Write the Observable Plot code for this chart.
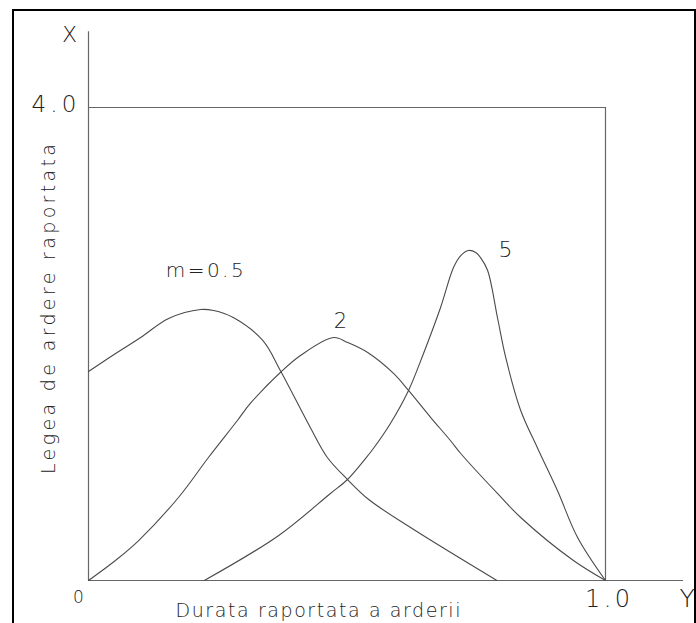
<!DOCTYPE html>
<html>
<head>
<meta charset="utf-8">
<script src="https://cdn.jsdelivr.net/npm/d3@7"></script>
<script src="https://cdn.jsdelivr.net/npm/@observablehq/plot@0.6"></script>
<style>
  html, body { margin: 0; padding: 0; background: #fff; }
  #wrap { position: relative; width: 696px; height: 623px; overflow: hidden; }
  #border { position: absolute; left: 12px; top: 9px; width: 680px; height: 700px; border: 2px solid #000; }
  #chart { position: absolute; left: 0; top: 0; }
</style>
</head>
<body>
<div id="wrap"><div id="border"></div><div id="chart"></div></div>
<script>
// ---- data ----
const seriesNames = ["m=0.5", "2", "5"];

const m05X = [0, 0.048, 0.101, 0.155, 0.217, 0.242, 0.280, 0.337, 0.371, 0.429, 0.462, 0.501, 0.542, 0.629, 0.790];
const m05Y = [1.767, 1.907, 2.055, 2.216, 2.292, 2.283, 2.224, 2.030, 1.776, 1.294, 1.040, 0.854, 0.685, 0.431, 0];

const m2X = [0, 0.052, 0.097, 0.174, 0.232, 0.288, 0.313, 0.371, 0.410, 0.474, 0.501, 0.540, 0.590, 0.619, 0.662, 0.700, 0.720, 0.791, 0.836, 0.938, 1.0];
const m2Y = [0, 0.169, 0.338, 0.702, 1.040, 1.353, 1.497, 1.759, 1.903, 2.055, 2.013, 1.928, 1.751, 1.607, 1.378, 1.184, 1.074, 0.736, 0.533, 0.169, 0];

const m5X = [0.224, 0.368, 0.468, 0.501, 0.536, 0.551, 0.584, 0.619, 0.648, 0.681, 0.706, 0.720, 0.735, 0.749, 0.758, 0.772, 0.791, 0.807, 0.836, 0.868, 0.907, 0.946, 1.0];
const m5Y = [0, 0.381, 0.736, 0.854, 1.032, 1.116, 1.328, 1.607, 1.920, 2.309, 2.647, 2.748, 2.791, 2.774, 2.732, 2.622, 2.224, 1.886, 1.438, 1.125, 0.761, 0.364, 0];

const xTickLabels = ["0", "1.0"];
const yTickLabels = ["4.0"];
const xTitle = "Durata raportata a arderii";
const yTitle = "Legea de ardere raportata";
const xAxisName = "Y";
const yAxisName = "X";

// ---- build table ----
const toRows = (xs, ys, name) => xs.map((x, i) => ({x, y: ys[i], s: name}));
const rows = [
  ...toRows(m05X, m05Y, seriesNames[0]),
  ...toRows(m2X, m2Y, seriesNames[1]),
  ...toRows(m5X, m5Y, seriesNames[2])
];
const peakOf = name => d3.greatest(rows.filter(r => r.s === name), r => r.y);

const font = "DejaVu Sans";
const fw = 200;
const ink = "#222";
const lineInk = "#4a4a4a";
const axisInk = "#666";

const txt = (data, opts) => Plot.text(data, {text: d => d, fontFamily: font, fontWeight: fw, fill: ink, ...opts});

const plot = Plot.plot({
  width: 696,
  height: 623,
  marginLeft: 88,
  marginRight: 91,
  marginTop: 107,
  marginBottom: 43,
  x: {domain: [0, 1], axis: null},
  y: {domain: [0, 4], axis: null},
  style: {background: "transparent", overflow: "visible"},
  marks: [
    // axes
    Plot.ruleX([0], {y1: 0, y2: 4.64, stroke: axisInk, strokeWidth: 1.2}),
    Plot.ruleY([0], {x1: 0, x2: 1.151, stroke: axisInk, strokeWidth: 1.2}),
    // box at 4.0 / 1.0
    Plot.ruleY([4], {x1: 0, x2: 1, stroke: axisInk, strokeWidth: 1.2}),
    Plot.ruleX([1], {y1: 0, y2: 4, stroke: axisInk, strokeWidth: 1.2}),
    // curves
    Plot.line(rows, {x: "x", y: "y", z: "s", stroke: lineInk, strokeWidth: 1.1, curve: "catmull-rom"}),
    // curve labels
    Plot.text([peakOf(seriesNames[0])], {x: "x", y: "y", text: "s", dx: 4, dy: -39, fontFamily: font, fontWeight: fw, fontSize: 20, fill: ink}),
    Plot.text([peakOf(seriesNames[1])], {x: "x", y: "y", text: "s", dx: 7, dy: -16, fontFamily: font, fontWeight: fw, fontSize: 21, fill: ink}),
    Plot.text([peakOf(seriesNames[2])], {x: "x", y: "y", text: "s", dx: 37, dy: -1, fontFamily: font, fontWeight: fw, fontSize: 22, fill: ink}),
    // tick labels
    txt([xTickLabels[0]], {x: 0, y: 0, dx: -10, dy: 17.5, fontSize: 17}),
    txt([xTickLabels[1]], {x: 1, y: 0, dx: 2, dy: 19, fontSize: 24}),
    txt([yTickLabels[0]], {x: 0, y: 4, dx: -34.5, dy: -3, fontSize: 23}),
    // axis names
    txt([yAxisName], {x: 0, y: 4.64, dx: -19, dy: 3, fontSize: 22}),
    txt([xAxisName], {x: 1.151, y: 0, dx: 3.5, dy: 18.5, fontSize: 25}),
    // titles
    txt([xTitle], {x: 0.5, y: 0, dx: -29, dy: 30, fontSize: 19}),
    txt([yTitle], {x: 0, y: 2, dx: -40, dy: -35, rotate: -90, fontSize: 19})
  ]
});

// stretch letter spacing of stroke-font style labels to the reference widths
const widths = new Map([[xTitle, 285], [yTitle, 330], [seriesNames[0], 78], [yTickLabels[0], 45], [xTickLabels[1], 45]]);
d3.select(plot).selectAll("text").each(function() {
  const w = widths.get(this.textContent);
  if (w) { this.setAttribute("textLength", w); this.setAttribute("lengthAdjust", "spacing"); }
});
document.getElementById("chart").appendChild(plot);
</script>
</body>
</html>
